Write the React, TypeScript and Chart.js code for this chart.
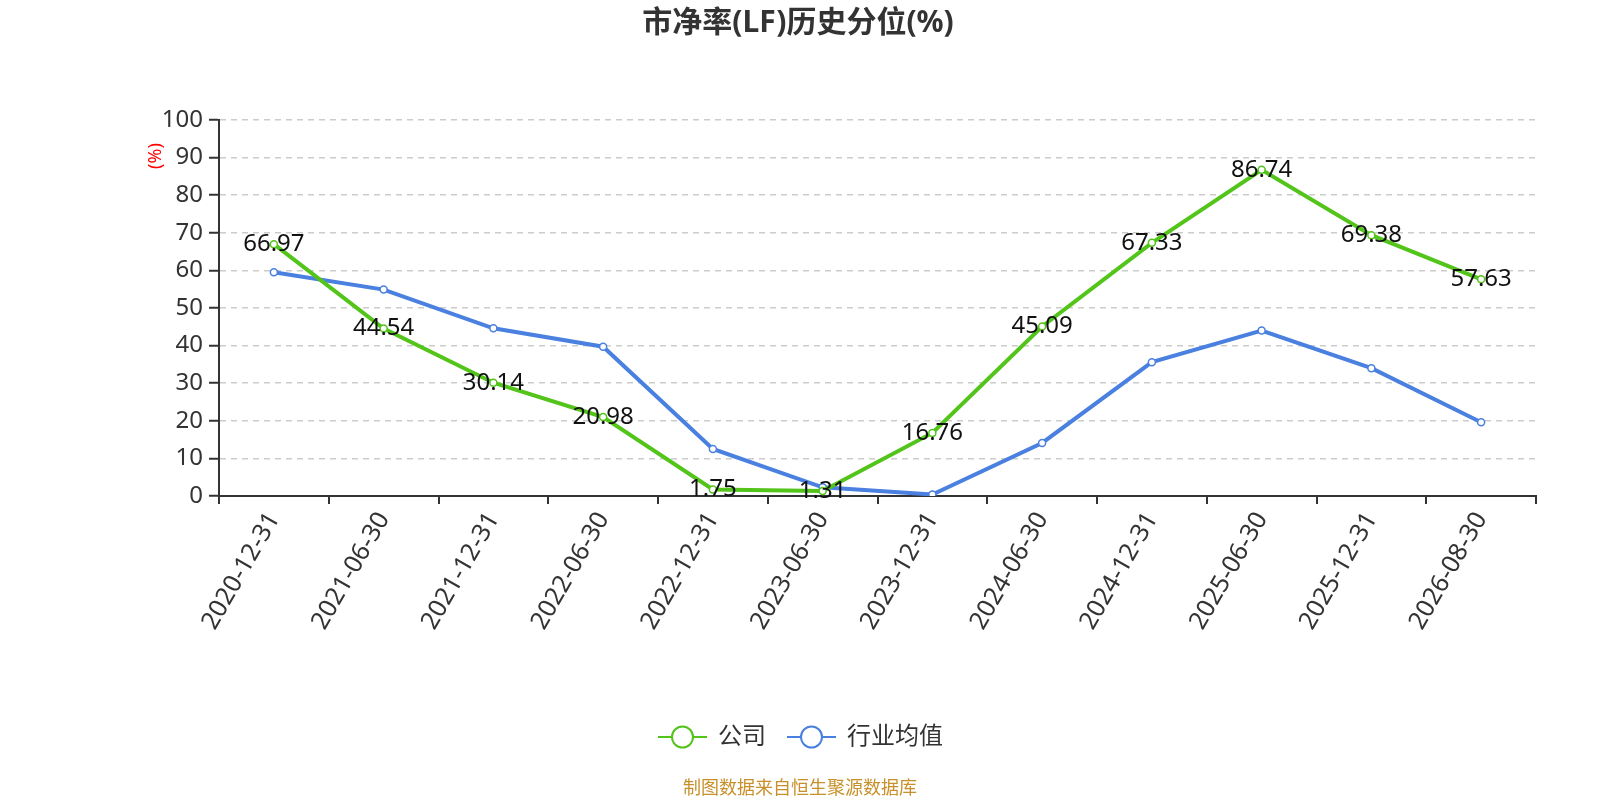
import React, { useRef, useEffect } from "react";
import { Chart, registerables } from "chart.js";

Chart.register(...registerables);

const dates = [
  "2020-12-31",
  "2021-06-30",
  "2021-12-31",
  "2022-06-30",
  "2022-12-31",
  "2023-06-30",
  "2023-12-31",
  "2024-06-30",
  "2024-12-31",
  "2025-06-30",
  "2025-12-31",
  "2026-08-30",
];
const companyValues = [66.97, 44.54, 30.14, 20.98, 1.75, 1.31, 16.76, 45.09, 67.33, 86.74, 69.38, 57.63];
const industryValues = [59.5, 54.9, 44.6, 39.7, 12.5, 2.3, 0.4, 14.1, 35.6, 44.0, 34.0, 19.6];
const seriesNames = ["公司", "行业均值"];

const GREEN = "#52c41a";
const BLUE = "#4a80e0";
const FONT = '"Noto Sans", "Noto Sans CJK SC", sans-serif';

const extras = {
  id: "extras",
  afterDatasetsDraw(chart: any) {
    const ctx = chart.ctx;
    const meta = chart.getDatasetMeta(0);
    ctx.save();
    ctx.font = `24px ${FONT}`;
    ctx.fillStyle = "#111";
    ctx.textAlign = "center";
    ctx.textBaseline = "middle";
    meta.data.forEach((pt: any, i: number) => {
      ctx.fillText(companyValues[i].toFixed(2), pt.x, pt.y);
    });
    ctx.restore();
  },
  afterDraw(chart: any) {
    const ctx = chart.ctx;
    ctx.save();
    // title
    ctx.font = `bold 30px ${FONT}`;
    ctx.fillStyle = "#333";
    ctx.textAlign = "center";
    ctx.textBaseline = "middle";
    ctx.fillText("市净率(LF)历史分位(%)", 798, 23);

    // y axis unit
    ctx.save();
    ctx.translate(156, 156);
    ctx.rotate(-Math.PI / 2);
    ctx.font = `18px ${FONT}`;
    ctx.fillStyle = "#ff0000";
    ctx.fillText("(%)", 0, 0);
    ctx.restore();

    // legend
    const items = [
      { name: seriesNames[0], color: GREEN, x: 658 },
      { name: seriesNames[1], color: BLUE, x: 787 },
    ];
    const ly = 737;
    items.forEach((it) => {
      ctx.strokeStyle = it.color;
      ctx.lineWidth = 2;
      ctx.beginPath();
      ctx.moveTo(it.x, ly);
      ctx.lineTo(it.x + 49, ly);
      ctx.stroke();
      ctx.beginPath();
      ctx.arc(it.x + 24.5, ly, 10.5, 0, Math.PI * 2);
      ctx.fillStyle = "#fff";
      ctx.fill();
      ctx.stroke();
      ctx.font = `24px ${FONT}`;
      ctx.fillStyle = "#333";
      ctx.textAlign = "left";
      ctx.fillText(it.name, it.x + 60, ly);
    });

    // source
    ctx.font = `18px ${FONT}`;
    ctx.fillStyle = "#c8902a";
    ctx.textAlign = "center";
    ctx.fillText("制图数据来自恒生聚源数据库", 800, 789);
    ctx.restore();
  },
};

const App = () => {
  const chartRef = useRef<HTMLCanvasElement>(null);

  useEffect(() => {
    document.body.style.margin = "0";
    if (!chartRef.current) return;
    const ctx = chartRef.current.getContext("2d");
    if (!ctx) return;

    const chart = new Chart(ctx, {
      type: "line",
      data: {
        labels: dates,
        datasets: [
          {
            label: seriesNames[0],
            data: companyValues,
            borderColor: GREEN,
            backgroundColor: "#fff",
            borderWidth: 4,
            pointRadius: 3.5,
            pointBorderWidth: 1.5,
            pointBackgroundColor: "#fff",
            pointBorderColor: GREEN,
          },
          {
            label: seriesNames[1],
            data: industryValues,
            borderColor: BLUE,
            backgroundColor: "#fff",
            borderWidth: 4,
            pointRadius: 3.5,
            pointBorderWidth: 1.5,
            pointBackgroundColor: "#fff",
            pointBorderColor: BLUE,
          },
        ],
      },
      options: {
        animation: false,
        responsive: true,
        maintainAspectRatio: false,
        layout: { padding: { left: 0, top: 120, right: 64, bottom: 0 } },
        scales: {
          x: {
            offset: true,
            afterFit: (scale: any) => {
              scale.height = 304;
            },
            grid: {
              offset: true,
              drawOnChartArea: false,
              drawTicks: true,
              tickLength: 8,
              color: "#333",
              lineWidth: 2,
            },
            border: { color: "#333", width: 2 },
            ticks: {
              autoSkip: false,
              maxRotation: 60,
              minRotation: 60,
              color: "#333",
              font: { size: 25, family: FONT },
            },
          },
          y: {
            min: 0,
            max: 100,
            afterFit: (scale: any) => {
              scale.width = 219;
            },
            grid: {
              color: "#cccccc",
              lineWidth: 1.5,
              tickColor: "#333",
              tickWidth: 2,
              tickLength: 10,
              tickBorderDash: [],
            },
            border: { color: "#333", width: 2, dash: [6, 5] },
            ticks: {
              stepSize: 10,
              padding: 6,
              color: "#333",
              font: { size: 24, family: FONT },
            },
          },
        },
        plugins: {
          legend: { display: false },
          title: { display: false },
          tooltip: { enabled: false },
        },
      },
      plugins: [extras],
    });

    return () => {
      chart.destroy();
    };
  }, []);

  return (
    <div style={{ width: 1600, height: 800, position: "relative" }}>
      <canvas ref={chartRef} />
    </div>
  );
};

export default App;
